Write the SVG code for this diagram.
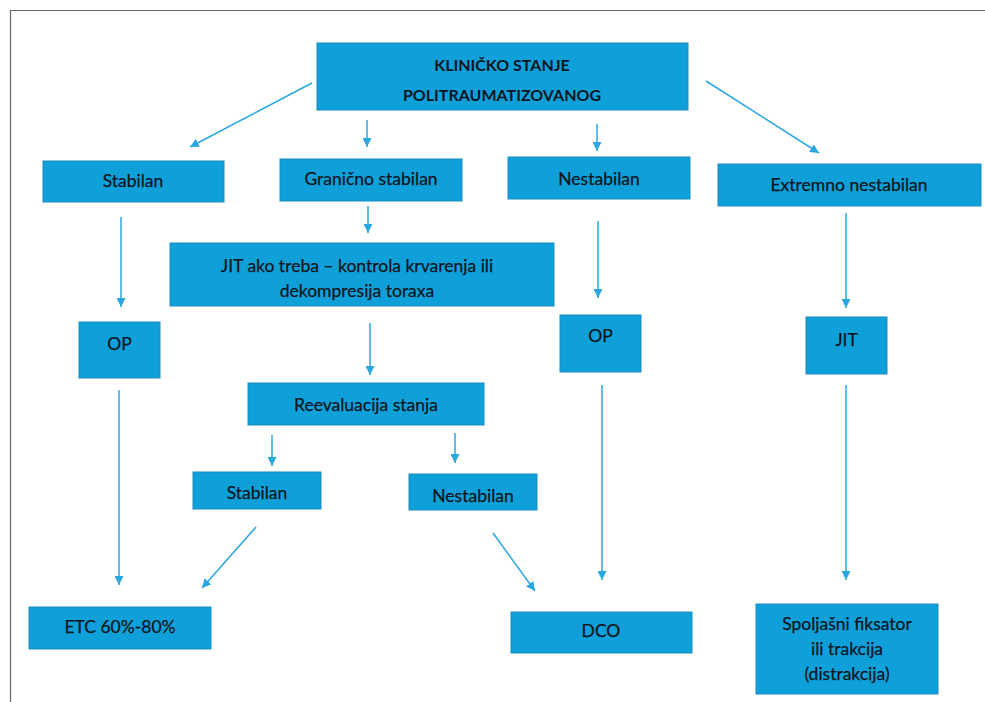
<svg xmlns="http://www.w3.org/2000/svg" width="985" height="702" viewBox="0 0 985 702">
<defs>
<marker id="ah" viewBox="0 0 10 10" refX="10" refY="5" markerWidth="9" markerHeight="9" markerUnits="userSpaceOnUse" orient="auto">
<path d="M0,0 L10,5 L0,10 Z" fill="#2AA7E0"/>
</marker>
<style>
.box{fill:#0FA0D9;stroke:#1B8CC2;stroke-width:1}
.t{font-family:Lato,"Open Sans","Liberation Sans",sans-serif;font-size:17.5px;fill:#0d1520;text-anchor:middle;stroke:#0d1520;stroke-width:0.25}
.tb{font-family:Lato,"Open Sans","Liberation Sans",sans-serif;font-size:16px;font-weight:bold;fill:#0d1520;text-anchor:middle}
.c line{stroke:#2AA7E0;stroke-width:1.5;marker-end:url(#ah)}
</style>
</defs>
<rect x="0" y="0" width="985" height="702" fill="#fff"/>
<path d="M10.5,702 V10.5 H985" fill="none" stroke="#666" stroke-width="1.2"/>

<g id="n-title"><rect class="box" x="317" y="43" width="371" height="67"/><text class="tb" x="502" y="71">KLINIČKO STANJE</text><text class="tb" x="502" y="101">POLITRAUMATIZOVANOG</text></g>
<g id="n-stabilan"><rect class="box" x="43" y="161" width="181" height="41"/><text class="t" x="133" y="187">Stabilan</text></g>
<g id="n-granicno"><rect class="box" x="280" y="159" width="182" height="42"/><text class="t" x="371" y="185">Granično stabilan</text></g>
<g id="n-nestabilan"><rect class="box" x="508" y="157" width="182" height="42"/><text class="t" x="599" y="185">Nestabilan</text></g>
<g id="n-extremno"><rect class="box" x="718" y="164" width="263" height="42"/><text class="t" x="849" y="191">Extremno nestabilan</text></g>
<g id="n-jitako"><rect class="box" x="170" y="243" width="384" height="63"/><text class="t" x="357" y="272">JIT ako treba – kontrola krvarenja ili</text><text class="t" x="357" y="297">dekompresija toraxa</text></g>
<g id="n-op1"><rect class="box" x="79" y="322" width="81" height="56"/><text class="t" x="119.5" y="350">OP</text></g>
<g id="n-op2"><rect class="box" x="560" y="315" width="81" height="57"/><text class="t" x="600.5" y="342">OP</text></g>
<g id="n-jit"><rect class="box" x="806" y="317" width="81" height="57"/><text class="t" x="846.5" y="346">JIT</text></g>
<g id="n-reeval"><rect class="box" x="248" y="383" width="236" height="42"/><text class="t" x="366" y="411">Reevaluacija stanja</text></g>
<g id="n-stabilan2"><rect class="box" x="193" y="472" width="128" height="37"/><text class="t" x="257" y="499">Stabilan</text></g>
<g id="n-nestabilan2"><rect class="box" x="409" y="474" width="128" height="36"/><text class="t" x="473" y="502">Nestabilan</text></g>
<g id="n-etc"><rect class="box" x="29" y="607" width="182" height="42"/><text class="t" x="120" y="633">ETC 60%-80%</text></g>
<g id="n-dco"><rect class="box" x="511" y="612" width="181" height="41"/><text class="t" x="601" y="637">DCO</text></g>
<g id="n-spolj"><rect class="box" x="756" y="604" width="182" height="90"/><text class="t" x="847" y="630">Spoljašni fiksator</text><text class="t" x="847" y="655">ili trakcija</text><text class="t" x="847" y="680">(distrakcija)</text></g>

<g id="connectors" class="c">
<line x1="312" y1="83" x2="190" y2="147"/>
<line x1="367" y1="120" x2="367" y2="147"/>
<line x1="597" y1="124" x2="597" y2="151"/>
<line x1="706" y1="81" x2="819" y2="153"/>
<line x1="121" y1="217" x2="121" y2="307"/>
<line x1="368" y1="206" x2="368" y2="233"/>
<line x1="598" y1="221" x2="598" y2="298"/>
<line x1="846" y1="213" x2="846" y2="308"/>
<line x1="370" y1="323" x2="370" y2="375"/>
<line x1="119" y1="390" x2="119" y2="585"/>
<line x1="272" y1="435" x2="272" y2="466"/>
<line x1="455" y1="433" x2="455" y2="463"/>
<line x1="256" y1="527" x2="202" y2="588"/>
<line x1="493" y1="533" x2="535" y2="591"/>
<line x1="602" y1="385" x2="602" y2="580"/>
<line x1="846" y1="385" x2="846" y2="580"/>
</g>
</svg>
